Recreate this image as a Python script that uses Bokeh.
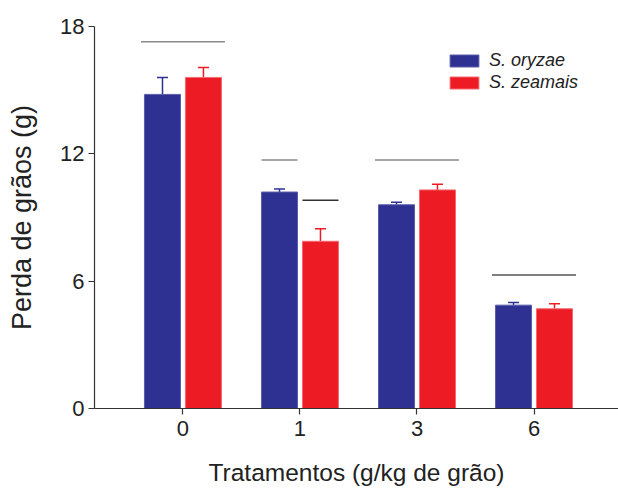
from bokeh.plotting import figure
from bokeh.models import (ColumnDataSource, Range1d, FixedTicker, Whisker, TeeHead,
                          Legend, LegendItem)
from bokeh.embed import file_html
from bokeh.resources import INLINE

# ---- data ----
categories = ["0", "1", "3", "6"]
oryzae = [14.8, 10.2, 9.6, 4.87]
oryzae_err = [0.8, 0.14, 0.12, 0.13]
zeamais = [15.6, 7.88, 10.3, 4.7]
zeamais_err = [0.47, 0.59, 0.27, 0.23]
y_ticks = [0, 6, 12, 18]

# significance lines: category index, which bars it covers, height
sig_cat = [0, 1, 1, 2, 3]
sig_cover = ["both", "oryzae", "zeamais", "both", "both"]
sig_y = [17.28, 11.71, 9.81, 11.71, 6.29]
sig_color = ["#8a8a8a", "#8a8a8a", "#333333", "#8a8a8a", "#555555"]

BLUE = "#2E3192"
RED = "#ED1C24"
FONT = "Liberation Sans"
TXT = "#222222"

bar_w = 0.308
off = 0.175
idx = list(range(len(categories)))

p = figure(width=618, height=488, output_backend="svg", toolbar_location=None,
           x_range=Range1d(-0.756, 3.722), y_range=Range1d(0, 18),
           min_border_left=94, min_border_right=0, min_border_top=26,
           min_border_bottom=80)
p.outline_line_color = None
p.xgrid.visible = False
p.ygrid.visible = False
p.background_fill_color = "white"
p.border_fill_color = "white"

xb = [i - off for i in idx]
xr = [i + off for i in idx]
src_b = ColumnDataSource(dict(x=xb, top=oryzae, up=[v + e for v, e in zip(oryzae, oryzae_err)]))
src_r = ColumnDataSource(dict(x=xr, top=zeamais, up=[v + e for v, e in zip(zeamais, zeamais_err)]))

# error bars
for src, col in ((src_b, BLUE), (src_r, RED)):
    w = Whisker(source=src, base="x", upper="up", lower="top", dimension="height",
                line_color=col, line_width=1.5,
                upper_head=TeeHead(size=11, line_color=col, line_width=1.5),
                lower_head=None)
    p.add_layout(w)

rb = p.vbar(x="x", top="top", width=bar_w, source=src_b, fill_color=BLUE,
            line_color="#5a5da8", line_width=1)
rr = p.vbar(x="x", top="top", width=bar_w, source=src_r, fill_color=RED,
            line_color="#f26a6f", line_width=1)

# significance lines
x0s, x1s = [], []
for c, cov in zip(sig_cat, sig_cover):
    if cov == "both":
        x0s.append(c - off - bar_w / 2 - 0.03)
        x1s.append(c + off + bar_w / 2 + 0.03)
    elif cov == "oryzae":
        x0s.append(c - off - bar_w / 2)
        x1s.append(c - off + bar_w / 2)
    else:
        x0s.append(c + off - bar_w / 2)
        x1s.append(c + off + bar_w / 2)
p.segment(x0=x0s, x1=x1s, y0=sig_y, y1=sig_y, line_color=sig_color, line_width=1.6)

# axes
for ax in (p.xaxis[0], p.yaxis[0]):
    ax.axis_line_color = "#333333"
    ax.axis_line_width = 1.2
    ax.major_tick_line_color = "#333333"
    ax.major_tick_line_width = 1.2
    ax.major_tick_out = 6
    ax.major_tick_in = 0
    ax.minor_tick_line_color = None
    ax.major_label_text_font = FONT
    ax.major_label_text_font_size = "22px"
    ax.major_label_text_color = TXT
    ax.axis_label_text_font = FONT
    ax.axis_label_text_font_style = "normal"
    ax.axis_label_text_color = TXT

p.xaxis.ticker = FixedTicker(ticks=idx)
p.xaxis.major_label_overrides = {i: c for i, c in zip(idx, categories)}
p.xaxis.major_label_standoff = 6
p.xaxis.axis_label = "Tratamentos (g/kg de grão)"
p.xaxis.axis_label_text_font_size = "24.5px"
p.xaxis.axis_label_standoff = 20

p.yaxis.ticker = FixedTicker(ticks=y_ticks)
p.yaxis.major_label_standoff = 4
p.yaxis.axis_label = "Perda de grãos (g)"
p.yaxis.axis_label_text_font_size = "27px"
p.yaxis.axis_label_standoff = 20

legend = Legend(items=[LegendItem(label="S. oryzae", renderers=[rb]),
                       LegendItem(label="S. zeamais", renderers=[rr])],
                location=(352, 315), glyph_width=36, glyph_height=15,
                label_height=15, spacing=1, padding=0, margin=0,
                label_standoff=7, border_line_color=None,
                background_fill_alpha=0,
                label_text_font=FONT, label_text_font_style="italic",
                label_text_font_size="18px", label_text_color=TXT)
p.add_layout(legend)

open("out.html", "w").write(file_html(p, INLINE))
